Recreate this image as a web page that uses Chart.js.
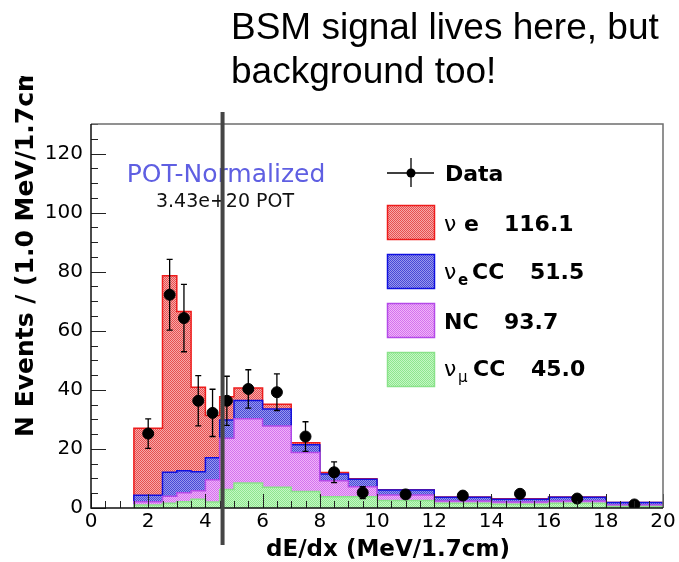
<!DOCTYPE html>
<html>
<head>
<meta charset="utf-8">
<script src="https://cdn.jsdelivr.net/npm/chart.js@4.4.0/dist/chart.umd.min.js"></script>
<style>
  html, body { margin: 0; padding: 0; background: #fff; }
</style>
</head>
<body>
<canvas id="c" width="679" height="562"></canvas>
<script>
/* global Chart */

// bin edges in dE/dx (MeV/1.7cm)
const BIN_EDGES = [1.5, 2.5, 3, 3.5, 4, 4.5, 5, 6, 7, 8, 9, 10, 12, 14, 16, 18, 20];

// per-bin contributions (events / 1.0 MeV/1.7cm), stacked bottom to top: numu CC, NC, nue CC, nu-e
const NUMU_CC = [1.0, 1.6, 2.1, 3.0, 2.0, 6.3, 8.5, 7.0, 5.6, 3.8, 3.8, 2.5, 1.6, 1.3, 1.6, 0.5];
const NC      = [1.1, 2.4, 3.1, 2.8, 7.6, 17.3, 21.7, 20.8, 13.2, 5.4, 3.4, 1.9, 0.8, 0.7, 0.8, 0.5];
const NUE_CC  = [2.2, 8.1, 7.4, 6.5, 7.4, 6.2, 6.2, 5.7, 2.6, 2.3, 2.5, 1.7, 1.2, 1.0, 1.2, 0.9];
const NUE_E   = [22.7, 66.5, 53.9, 28.6, 14.3, 7.9, 4.2, 1.6, 0.7, 0.5, 0.2, 0.1, 0.1, 0.1, 0.1, 0.0];

// data points
const DATA_X   = [2, 2.75, 3.25, 3.75, 4.25, 4.75, 5.5, 6.5, 7.5, 8.5, 9.5, 11, 13, 15, 17, 19];
const DATA_Y   = [25.2, 72.2, 64.3, 36.3, 32.2, 36.3, 40.3, 39.2, 24.2, 12.1, 5.2, 4.6, 4.2, 4.8, 3.2, 1.2];
const DATA_ERR = [5.0, 12.0, 11.4, 8.5, 8.0, 8.3, 6.5, 6.2, 5.0, 3.5, 2.0, 1.2, 1.0, 1.0, 0.9, 0.6];

const X_TICKS = [0, 2, 4, 6, 8, 10, 12, 14, 16, 18, 20];
const Y_TICKS = [0, 20, 40, 60, 80, 100, 120];
const LEGEND_TOTALS = ['116.1', '51.5', '93.7', '45.0'];
const SIGNAL_CUT = 4.6;

function dither(c1, c2) {
    const p = document.createElement('canvas');
    p.width = p.height = 2;
    const g = p.getContext('2d');
    g.fillStyle = c2; g.fillRect(0, 0, 2, 2);
    g.fillStyle = c1; g.fillRect(0, 0, 1, 1); g.fillRect(1, 1, 1, 1);
    return g.createPattern(p, 'repeat');
}

const STYLES = {
    numu: { fill: dither('#8ee68e', '#c4f7c4'), line: '#8ae28a' },
    nc:   { fill: dither('#d472ee', '#efb4f9'), line: '#b44ae8' },
    nuecc:{ fill: dither('#4848d6', '#9898ee'), line: '#1010e0' },
    nue:  { fill: dither('#e65050', '#f8a8a8'), line: '#ee1c1c' },
};

// running sum of the layers -> top edge of each stacked layer
function stackTops(layers) {
    const tops = [];
    let acc = new Array(layers[0].length).fill(0);
    layers.forEach(l => {
        acc = acc.map((v, i) => v + l[i]);
        tops.push(acc.slice());
    });
    return tops;
}

function stepPoints(tops) {
    const n = tops.length;
    const pts = [{ x: BIN_EDGES[0], y: 0 }];
    for (let i = 0; i < n; i++) pts.push({ x: BIN_EDGES[i], y: tops[i] });
    pts.push({ x: BIN_EDGES[n], y: tops[n - 1] });
    pts.push({ x: BIN_EDGES[n], y: 0 });
    return pts;
}

const [topNumu, topNc, topNuecc, topNue] = stackTops([NUMU_CC, NC, NUE_CC, NUE_E]);

function layer(label, tops, style, fill) {
    return {
        type: 'line', label, data: stepPoints(tops), stepped: true, order: 1,
        backgroundColor: style.fill, borderColor: style.line, borderWidth: 1.5,
        pointRadius: 0, fill, tension: 0,
    };
}

const rootDecor = {
    id: 'rootDecor',
    afterDatasetsDraw(chart) {
        const { ctx, chartArea: a, scales: { x, y } } = chart;
        ctx.save();

        // error bars
        ctx.strokeStyle = '#000';
        ctx.lineWidth = 1.3;
        DATA_X.forEach((v, i) => {
            const px = x.getPixelForValue(v);
            const y1 = y.getPixelForValue(DATA_Y[i] + DATA_ERR[i]);
            const y2 = y.getPixelForValue(Math.max(0, DATA_Y[i] - DATA_ERR[i]));
            ctx.beginPath();
            ctx.moveTo(px, y1); ctx.lineTo(px, y2);
            ctx.moveTo(px - 3, y1); ctx.lineTo(px + 3, y1);
            ctx.moveTo(px - 3, y2); ctx.lineTo(px + 3, y2);
            ctx.stroke();
        });

        // inward ticks, ROOT style
        ctx.lineWidth = 1;
        ctx.strokeStyle = '#222';
        ctx.beginPath();
        for (let v = 0; v <= 20.001; v += 0.5) {
            const px = Math.round(x.getPixelForValue(v)) + 0.5;
            const len = X_TICKS.includes(v) ? 14 : 7;
            ctx.moveTo(px, a.bottom); ctx.lineTo(px, a.bottom - len);
        }
        for (let v = 0; v <= 130.001; v += 5) {
            const py = Math.round(y.getPixelForValue(v)) + 0.5;
            const len = Y_TICKS.includes(v) ? 15 : 7;
            ctx.moveTo(a.left, py); ctx.lineTo(a.left + len, py);
        }
        ctx.stroke();

        // frame
        ctx.strokeStyle = '#6e6e6e';
        ctx.lineWidth = 1.5;
        ctx.beginPath();
        ctx.moveTo(a.left, a.top); ctx.lineTo(a.right, a.top); ctx.lineTo(a.right, a.bottom);
        ctx.stroke();
        ctx.strokeStyle = '#111';
        ctx.beginPath();
        ctx.moveTo(a.left, a.top); ctx.lineTo(a.left, a.bottom); ctx.lineTo(a.right, a.bottom);
        ctx.stroke();

        // normalisation text
        ctx.textAlign = 'center';
        ctx.textBaseline = 'alphabetic';
        ctx.fillStyle = '#5f5fe2';
        ctx.font = '25px "DejaVu Sans"';
        ctx.fillText('POT-Normalized', 226, 182);
        ctx.fillStyle = '#111';
        ctx.font = '19px "DejaVu Sans"';
        ctx.fillText('3.43e+20 POT', 225, 207);

        // legend
        ctx.textAlign = 'left';
        ctx.strokeStyle = '#000';
        ctx.lineWidth = 1.3;
        ctx.beginPath();
        ctx.moveTo(387, 173); ctx.lineTo(434, 173);
        ctx.moveTo(411, 158); ctx.lineTo(411, 187);
        ctx.stroke();
        ctx.beginPath(); ctx.arc(411, 173, 4.5, 0, Math.PI * 2); ctx.fillStyle = '#000'; ctx.fill();
        ctx.font = 'bold 22px "DejaVu Sans"';
        ctx.fillText('Data', 445, 181);

        const rows = [STYLES.nue, STYLES.nuecc, STYLES.nc, STYLES.numu];
        rows.forEach((s, i) => {
            const top = 205 + i * 49;
            ctx.fillStyle = s.fill;
            ctx.fillRect(387, top, 48, 35);
            ctx.strokeStyle = s.line;
            ctx.lineWidth = 1.5;
            ctx.strokeRect(387.5, top + 0.5, 47, 34);
        });
        ctx.fillStyle = '#000';
        const reg = '22px "DejaVu Sans"', bold = 'bold 22px "DejaVu Sans"', sub = 'bold 15px "DejaVu Sans"';
        // row 1: nu e
        ctx.font = reg;  ctx.fillText('ν', 444, 231);
        ctx.font = bold; ctx.fillText('e', 464, 231); ctx.fillText(LEGEND_TOTALS[0], 504, 231);
        // row 2: nu_e CC
        ctx.font = reg;  ctx.fillText('ν', 444, 279);
        ctx.font = sub;  ctx.fillText('e', 458, 285);
        ctx.font = bold; ctx.fillText('CC', 472, 279); ctx.fillText(LEGEND_TOTALS[1], 530, 279);
        // row 3: NC
        ctx.fillText('NC', 444, 329); ctx.fillText(LEGEND_TOTALS[2], 504, 329);
        // row 4: nu_mu CC
        ctx.font = reg;  ctx.fillText('ν', 444, 376);
        ctx.font = '15px "DejaVu Sans"'; ctx.fillText('μ', 458, 382);
        ctx.font = bold; ctx.fillText('CC', 473, 376); ctx.fillText(LEGEND_TOTALS[3], 531, 376);

        // axis titles
        ctx.font = 'bold 23px "DejaVu Sans"';
        ctx.textAlign = 'center';
        ctx.fillText('dE/dx (MeV/1.7cm)', 388, 556);
        ctx.save();
        ctx.beginPath(); ctx.rect(0, 76, 90, 480); ctx.clip();
        ctx.translate(33, 437);
        ctx.rotate(-Math.PI / 2);
        ctx.textAlign = 'left';
        ctx.font = 'bold 25px "DejaVu Sans"';
        ctx.fillText('N Events / (1.0 MeV/1.7cm)', 0, 0);
        ctx.restore();

        // slide caption
        ctx.textAlign = 'left';
        ctx.font = '37px "Liberation Sans"';
        ctx.fillStyle = '#000';
        ctx.fillText('BSM signal lives here, but', 231, 39);
        ctx.fillText('background too!', 231, 83);

        // signal cut line
        const cx = x.getPixelForValue(SIGNAL_CUT);
        ctx.strokeStyle = '#454545';
        ctx.lineWidth = 4;
        ctx.beginPath(); ctx.moveTo(cx, 112); ctx.lineTo(cx, 545); ctx.stroke();

        ctx.restore();
    }
};

new Chart(document.getElementById('c'), {
    type: 'line',
    data: {
        datasets: [
            layer('νμ CC', topNumu, STYLES.numu, 'origin'),
            layer('NC', topNc, STYLES.nc, '-1'),
            layer('νe CC', topNuecc, STYLES.nuecc, '-1'),
            layer('ν e', topNue, STYLES.nue, '-1'),
            {
                type: 'scatter', label: 'Data', order: 0,
                data: DATA_X.map((v, i) => ({ x: v, y: DATA_Y[i] })),
                pointRadius: 5.5, pointBackgroundColor: '#000', pointBorderColor: '#000', showLine: false,
            },
        ]
    },
    options: {
        responsive: false,
        devicePixelRatio: 1,
        animation: false,
        layout: { padding: { top: 124, right: 16, left: 0, bottom: 0 } },
        plugins: { legend: { display: false }, tooltip: { enabled: false } },
        scales: {
            x: {
                type: 'linear', min: 0, max: 20,
                afterBuildTicks: s => { s.ticks = X_TICKS.map(v => ({ value: v })); },
                afterFit: s => { s.height = 54; },
                grid: { display: false, drawTicks: false },
                border: { display: false },
                ticks: { color: '#000', font: { family: 'DejaVu Sans', size: 20 }, padding: 2, maxRotation: 0, autoSkip: false },
            },
            y: {
                type: 'linear', min: 0, max: 130,
                afterBuildTicks: s => { s.ticks = Y_TICKS.map(v => ({ value: v })); },
                afterFit: s => { s.width = 91; },
                grid: { display: false, drawTicks: false },
                border: { display: false },
                ticks: { color: '#000', font: { family: 'DejaVu Sans', size: 20 }, padding: 8, autoSkip: false },
            }
        }
    },
    plugins: [rootDecor]
});
</script>
</body>
</html>
